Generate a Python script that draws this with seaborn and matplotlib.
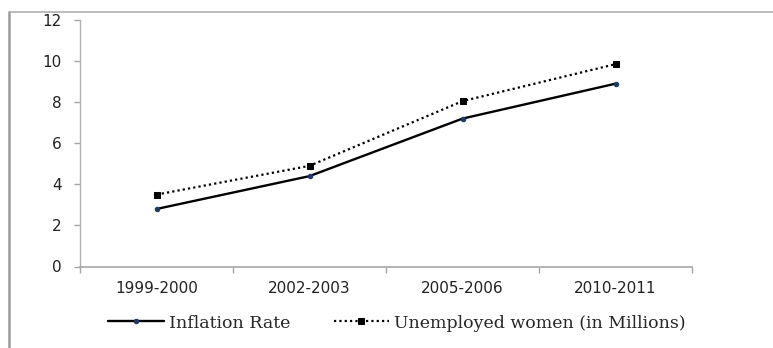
import matplotlib
matplotlib.use("Agg")
import matplotlib.pyplot as plt
from matplotlib.lines import Line2D
from matplotlib.ticker import FixedLocator, NullFormatter, FixedFormatter
import seaborn as sns
import pandas as pd

# Data
periods = ["1999-2000", "2002-2003", "2005-2006", "2010-2011"]
inflation_rate = [2.8, 4.4, 7.2, 8.9]
unemployed_women = [3.5, 4.9, 8.05, 9.85]
y_ticks = [0, 2, 4, 6, 8, 10, 12]

sns.set_style("white")
plt.rcParams["font.family"] = ["DejaVu Sans"]

df = pd.DataFrame({"period": periods, "pos": range(len(periods)),
                   "inflation": inflation_rate, "unemployed": unemployed_women})

fig = plt.figure(figsize=(7.73, 3.48), dpi=100)
ax = fig.add_axes([80 / 773, 1 - 266.5 / 348, (692 - 80) / 773, (266.5 - 20) / 348])

sns.lineplot(data=df, x="pos", y="inflation", ax=ax, color="black", lw=1.7,
             marker="o", markersize=3.2, markerfacecolor="#1f3864",
             markeredgecolor="#1f3864", label="Inflation Rate", legend=False)
sns.lineplot(data=df, x="pos", y="unemployed", ax=ax, color="black", lw=1.6,
             linestyle=(0, (1, 1.4)), marker="s", markersize=4.5,
             markerfacecolor="black", markeredgecolor="black",
             label="Unemployed women (in Millions)", legend=False)

ax.set_xlim(-0.5, len(periods) - 0.5)
ax.set_ylim(0, 12)
ax.set_xlabel("")
ax.set_ylabel("")

# Category boundary ticks on x, labels centred in each category
ax.xaxis.set_major_locator(FixedLocator([i - 0.5 for i in range(len(periods) + 1)]))
ax.xaxis.set_major_formatter(NullFormatter())
ax.xaxis.set_minor_locator(FixedLocator(list(range(len(periods)))))
ax.xaxis.set_minor_formatter(FixedFormatter(periods))
ax.tick_params(axis="x", which="major", direction="out", length=4.5, width=1,
               color="#a6a6a6", bottom=True)
ax.tick_params(axis="x", which="minor", length=0, pad=10.5, labelsize=11,
               labelcolor="#222222")

ax.set_yticks(y_ticks)
ax.tick_params(axis="y", direction="out", length=4.5, width=1, color="#a6a6a6",
               left=True, pad=8.5, labelsize=11, labelcolor="#222222")

for side in ("top", "right"):
    ax.spines[side].set_visible(False)
ax.spines["left"].set_color("#b0b0b0")
ax.spines["bottom"].set_color("#a6a6a6")
ax.spines["left"].set_linewidth(1)
ax.spines["bottom"].set_linewidth(1.2)

# Outer chart frame (left and top edges)
fig.add_artist(Line2D([8.5 / 773, 8.5 / 773], [0, 1 - 11.5 / 348],
                      transform=fig.transFigure, color="#9a9a9a", lw=1.8))
fig.add_artist(Line2D([8.5 / 773, 1], [1 - 11.5 / 348, 1 - 11.5 / 348],
                      transform=fig.transFigure, color="#b0b0b0", lw=1.2))

handles, labels = ax.get_legend_handles_labels()
fig.legend(handles, labels, loc="center", bbox_to_anchor=(397 / 773, 1 - 323 / 348),
           ncol=2, frameon=False, handlelength=3.2, handletextpad=0.28,
           columnspacing=2.5, prop={"family": "DejaVu Serif", "size": 12.5})

fig.savefig("out.png", dpi=100)
